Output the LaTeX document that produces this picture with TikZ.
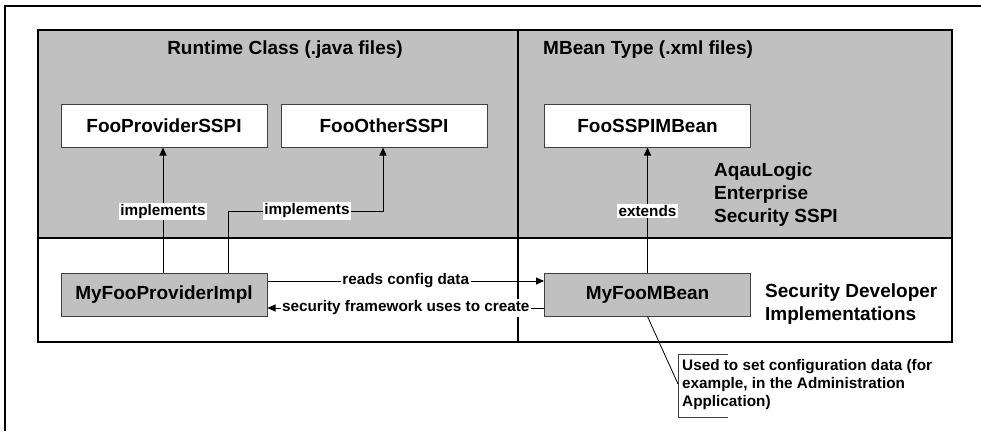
\documentclass[tikz,border=0pt]{standalone}
\usepackage{fontspec}
\setmainfont{Liberation Sans}
\usetikzlibrary{arrows.meta}
\definecolor{panelgray}{HTML}{C0C0C0}
\definecolor{edgegray}{HTML}{404040}
\begin{document}
\begin{tikzpicture}[x=1pt,y=-1pt,
  bigtxt/.style={font=\fontsize{19}{23}\selectfont\bfseries},
  smalltxt/.style={font=\fontsize{15.3}{18}\selectfont\bfseries},
  classbox/.style={draw=edgegray,line width=1pt,minimum width=206pt,minimum height=43pt,inner sep=0pt,bigtxt},
  whitebox/.style={classbox,fill=white},
  graybox/.style={classbox,fill=panelgray},
  lbl/.style={smalltxt,fill=white,inner sep=1.5pt},
  arr/.style={line width=1pt,-{Triangle[length=8pt,width=7pt]}},
  plain/.style={line width=1pt},
  heavy/.style={line width=2pt}]
\useasboundingbox (0,0) rectangle (981,431);
% outer frame (top and left edges visible)
\draw[heavy] (981,6) -- (5,6) -- (5,431);
% panels
\fill[panelgray] (38,30) rectangle (952,238);
\fill[white] (38,238) rectangle (952,342);
\draw[heavy] (38,30) rectangle (952,342);
\draw[heavy] (38,238) -- (952,238);
\draw[heavy] (518,30) -- (518,342);
% headings
\node[bigtxt,inner sep=0pt] (rt) at (285,50) {Runtime Class (.java files)};
\node[bigtxt,inner sep=0pt,anchor=west] (mt) at (543,50) {MBean Type (.xml files)};
\node[bigtxt,inner sep=0pt,anchor=west,align=left] (aqua) at (714,195) {AqauLogic\\Enterprise\\Security SSPI};
\node[bigtxt,inner sep=0pt,anchor=west,align=left] (sdi) at (765,304.5) {Security Developer\\Implementations};
% boxes
\node[whitebox] (sspi) at (164,125.5) {FooProviderSSPI};
\node[whitebox] (other) at (384,125.5) {FooOtherSSPI};
\node[whitebox] (mbtype) at (647.5,125.5) {FooSSPIMBean};
\node[graybox] (impl) at (164,294.5) {MyFooProviderImpl};
\node[graybox] (mbean) at (647.5,294.5) {MyFooMBean};
% connectors
\draw[arr] (impl.north -| 163,0) -- node[lbl,pos=0.49] {implements} (sspi.south -| 163,0);
\draw[arr] (impl.north -| 228,0) |- (307,211) node[lbl] {implements} -| (other.south -| 383,0);
\draw[arr] (mbean.north) -- node[lbl,pos=0.49] {extends} (mbtype.south);
\draw[arr] ([yshift=13.5pt]impl.east) -- node[lbl] {reads config data} ([yshift=13.5pt]mbean.west);
\draw[arr] ([yshift=-13.5pt]mbean.west) -- node[lbl] {security framework uses to create} ([yshift=-13.5pt]impl.east);
% callout
\node[smalltxt,anchor=west,align=left,inner sep=0pt] (note) at (682,385) {Used to set configuration data (for\\example, in the Administration\\Application)};
\coordinate (bt) at (678,354);
\coordinate (bb) at (678,417);
\coordinate (lead) at (678,384);
\draw[line width=0.8pt,draw=edgegray] (728,354) -- (bt) -- (bb) -- (728,417);
\draw[line width=0.8pt] (mbean.south) -- (lead);
\end{tikzpicture}
\end{document}
